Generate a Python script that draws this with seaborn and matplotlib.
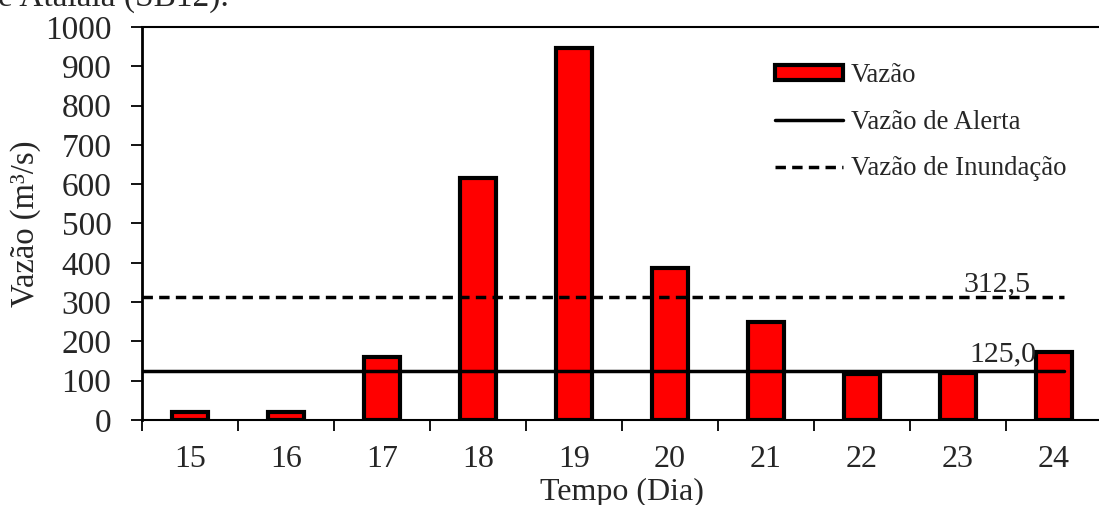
import matplotlib
matplotlib.use("Agg")
import matplotlib.pyplot as plt
import seaborn as sns
import pandas as pd
from matplotlib.patches import Patch
from matplotlib.lines import Line2D

# Daily discharge (m³/s) and reference thresholds
dias = ["15", "16", "17", "18", "19", "20", "21", "22", "23", "24"]
vazao = [20, 20, 160, 616, 947, 386, 250, 116, 119, 173]
vazao_alerta = 125.0
vazao_inundacao = 312.5
y_ticks = [0, 100, 200, 300, 400, 500, 600, 700, 800, 900, 1000]

sns.set_theme(style="white")
plt.rcParams["font.family"] = ["Liberation Serif", "DejaVu Serif"]

fig = plt.figure(figsize=(10.99, 5.05), dpi=100)
ax = fig.add_axes([142 / 1099, 1 - 420 / 505, 960 / 1099, (420 - 27) / 505])

df = pd.DataFrame({"Dia": dias, "Vazão": vazao})
sns.barplot(data=df, x="Dia", y="Vazão", color="#ff0000", saturation=1,
            edgecolor="black", linewidth=3.0, width=0.38, ax=ax, zorder=2)

# Threshold lines spanning the category range
x_span = [-0.5, 9.1]
ax.plot(x_span, [vazao_inundacao] * 2, color="black", lw=2.5,
        dashes=(3.0, 1.8), zorder=3)
ax.plot(x_span, [vazao_alerta] * 2, color="black", lw=2.5, zorder=3)

ax.text(8.41, vazao_inundacao + 14, "312,5", fontsize=21.5, ha="center", va="baseline")
ax.text(8.47, vazao_alerta + 24, "125,0", fontsize=21.5, ha="center", va="baseline")

ax.set_xlim(-0.5, 9.5)
ax.set_ylim(0, 1000)
ax.set_yticks(y_ticks)
ax.set_yticklabels([str(v) for v in y_ticks])
ax.set_xticks(range(len(dias)))
ax.set_xticklabels(dias)
ax.set_xticks([i - 0.5 for i in range(len(dias) + 1)], minor=True)
ax.tick_params(axis="x", which="major", length=0, labelsize=23, pad=18)
ax.tick_params(axis="x", which="minor", length=8, width=1.3, color="black",
               direction="out", bottom=True)
ax.tick_params(axis="y", which="major", length=8, width=1.3, color="black",
               direction="out", left=True, labelsize=24, pad=14)

ax.set_xlabel("Tempo (Dia)", fontsize=23)
ax.xaxis.set_label_coords(0.5, -(478 - 420) / 393)
ax.set_ylabel("Vazão (m³/s)", fontsize=23.5, labelpad=3)

for side in ["left", "bottom", "top"]:
    ax.spines[side].set_visible(True)
    ax.spines[side].set_color("black")
ax.spines["left"].set_linewidth(2.0)
ax.spines["bottom"].set_linewidth(1.5)
ax.spines["top"].set_linewidth(1.5)
ax.spines["right"].set_visible(False)
ax.grid(False)

handles = [
    Patch(facecolor="#ff0000", edgecolor="black", linewidth=3.0),
    Line2D([0], [0], color="black", lw=2.5),
    Line2D([0], [0], color="black", lw=2.5, dashes=(3.0, 1.8)),
]
labels = ["Vazão", "Vazão de Alerta", "Vazão de Inundação"]
ax.legend(handles, labels, loc="upper left", bbox_to_anchor=(0.645, 0.942),
          frameon=False, fontsize=19.3, handlelength=2.55, handleheight=0.5,
          handletextpad=0.3, labelspacing=0.8, borderpad=0)

fig.text(-0.002, 1 - 6 / 505, "e Atalaia (SB12).", fontsize=24,
         ha="left", va="baseline")

fig.savefig("out.png", dpi=100)
